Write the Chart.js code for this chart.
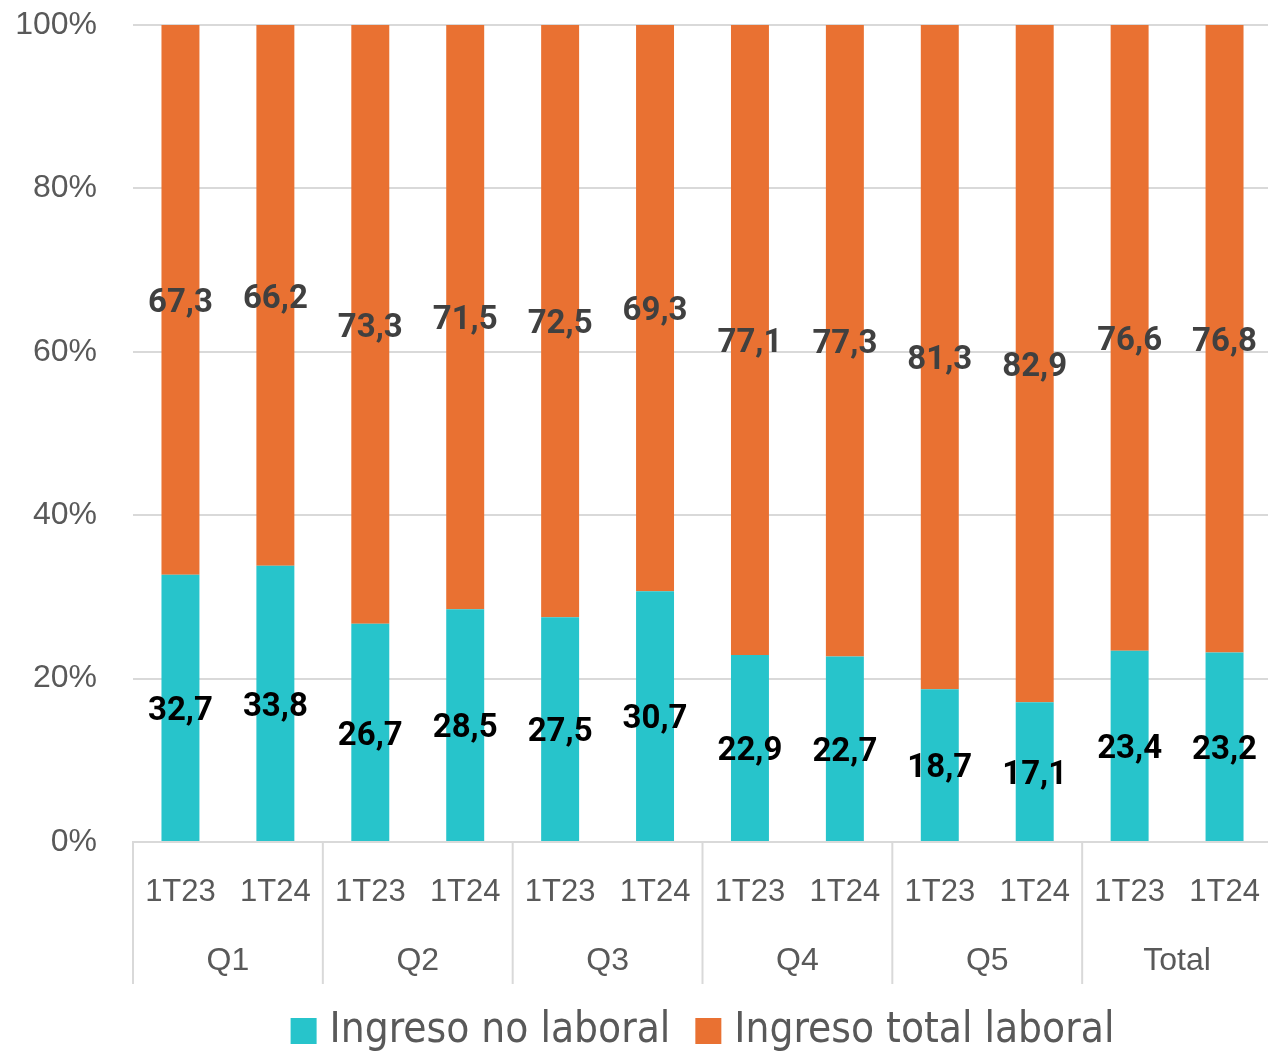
<!DOCTYPE html>
<html>
<head>
<meta charset="utf-8">
<script src="https://cdn.jsdelivr.net/npm/chart.js@4.4.1/dist/chart.umd.min.js"></script>
<style>
  body { margin: 0; background: #fff; }
  #wrap { width: 1268px; height: 1054px; overflow: hidden; }
</style>
</head>
<body>
<div id="wrap"><canvas id="chart" width="1272" height="1054"></canvas></div>
<script>
// Datos del grafico
var periodos = ['1T23', '1T24', '1T23', '1T24', '1T23', '1T24', '1T23', '1T24', '1T23', '1T24', '1T23', '1T24'];
var grupos = ['Q1', 'Q2', 'Q3', 'Q4', 'Q5', 'Total'];
var ingresoNoLaboral = [32.7, 33.8, 26.7, 28.5, 27.5, 30.7, 22.9, 22.7, 18.7, 17.1, 23.4, 23.2];
var ingresoLaboral = [67.3, 66.2, 73.3, 71.5, 72.5, 69.3, 77.1, 77.3, 81.3, 82.9, 76.6, 76.8];
var yTicks = [0, 20, 40, 60, 80, 100];

var CYAN = '#27C4CB';
var ORANGE = '#E97132';
var GRID = '#D9D9D9';
var TICK = '#595959';

// Etiquetas de valores dentro de cada segmento
var valueLabels = {
    id: 'valueLabels',
    afterDatasetsDraw: function(chart) {
        var ctx = chart.ctx;
        ctx.save();
        ctx.font = 'bold 33px Roboto, "Liberation Sans", sans-serif';
        ctx.textAlign = 'center';
        ctx.textBaseline = 'middle';
        chart.data.datasets.forEach(function(ds, di) {
            var meta = chart.getDatasetMeta(di);
            ctx.fillStyle = di === 0 ? '#000000' : '#404040';
            meta.data.forEach(function(bar, i) {
                var mid = (bar.y + bar.base) / 2 + 4;
                ctx.fillText(ds.data[i].toFixed(1).replace('.', ','), bar.x, mid);
            });
        });
        ctx.restore();
    }
};

// Segundo nivel del eje x: grupos y separadores, y la leyenda abajo
var groupAxis = {
    id: 'groupAxis',
    afterDraw: function(chart) {
        var ctx = chart.ctx;
        var x = chart.scales.x;
        var area = chart.chartArea;
        var step = x.getPixelForValue(1) - x.getPixelForValue(0);
        var bottom = area.bottom + 142;
        ctx.save();
        ctx.strokeStyle = GRID;
        ctx.lineWidth = 2;
        for (var g = 0; g < grupos.length; g++) {
            var sx = x.getPixelForValue(g * 2) - step / 2;
            ctx.beginPath();
            ctx.moveTo(sx, area.bottom);
            ctx.lineTo(sx, bottom);
            ctx.stroke();
        }
        ctx.fillStyle = TICK;
        ctx.font = '32px "Liberation Sans", Arial, sans-serif';
        ctx.textAlign = 'center';
        ctx.textBaseline = 'middle';
        grupos.forEach(function(name, g) {
            var cx = (x.getPixelForValue(g * 2) + x.getPixelForValue(g * 2 + 1)) / 2;
            ctx.fillText(name, cx, area.bottom + 119);
        });

        // leyenda
        ctx.font = '42px "Liberation Sans Narrow", "DejaVu Sans Condensed", sans-serif';
        ctx.textAlign = 'left';
        var items = chart.data.datasets.map(function(ds) {
            return { text: ds.label, color: ds.backgroundColor, w: ctx.measureText(ds.label).width };
        });
        var box = 26, gapText = 13, gapItem = 25;
        var total = 0;
        items.forEach(function(it, i) {
            total += box + gapText + it.w + (i > 0 ? gapItem : 0);
        });
        var lx = (area.left + area.right) / 2 - total / 2;
        var ly = 1031;
        items.forEach(function(it) {
            ctx.fillStyle = it.color;
            ctx.fillRect(lx, ly - box / 2, box, box);
            ctx.fillStyle = TICK;
            ctx.fillText(it.text, lx + box + gapText, ly);
            lx += box + gapText + it.w + gapItem;
        });
        ctx.restore();
    }
};

var ctx = document.getElementById('chart').getContext('2d');
var myChart = new Chart(ctx, {
    type: 'bar',
    data: {
        labels: periodos,
        datasets: [{
            label: 'Ingreso no laboral',
            data: ingresoNoLaboral,
            backgroundColor: CYAN,
            categoryPercentage: 1,
            barPercentage: 0.4
        }, {
            label: 'Ingreso total laboral',
            data: ingresoLaboral,
            backgroundColor: ORANGE,
            categoryPercentage: 1,
            barPercentage: 0.4
        }]
    },
    options: {
        responsive: false,
        animation: false,
        layout: { padding: { top: 25, right: 0, left: 0, bottom: 70 } },
        plugins: {
            tooltip: { enabled: false },
            legend: { display: false }
        },
        scales: {
            x: {
                stacked: true,
                grid: { display: false, drawTicks: false },
                border: { display: true, color: GRID, width: 2 },
                ticks: {
                    color: TICK,
                    padding: 32,
                    maxRotation: 0,
                    autoSkip: false,
                    font: { size: 31, family: '"Liberation Sans", Arial, sans-serif' }
                },
                afterFit: function(scale) {
                    scale.height = 142;
                    scale.paddingLeft = 0;
                    scale.paddingRight = 0;
                }
            },
            y: {
                stacked: true,
                min: 0,
                max: 100,
                afterBuildTicks: function(scale) {
                    scale.ticks = yTicks.map(function(v) { return { value: v }; });
                },
                grid: { color: GRID, lineWidth: 2, drawTicks: false },
                border: { display: false },
                ticks: {
                    color: TICK,
                    padding: 36,
                    font: { size: 32, family: '"Liberation Sans", Arial, sans-serif' },
                    callback: function(v) { return v + '%'; }
                },
                afterFit: function(scale) {
                    scale.width = 133;
                    scale.paddingTop = 0;
                    scale.paddingBottom = 0;
                }
            }
        }
    },
    plugins: [valueLabels, groupAxis]
});
</script>
</body>
</html>
